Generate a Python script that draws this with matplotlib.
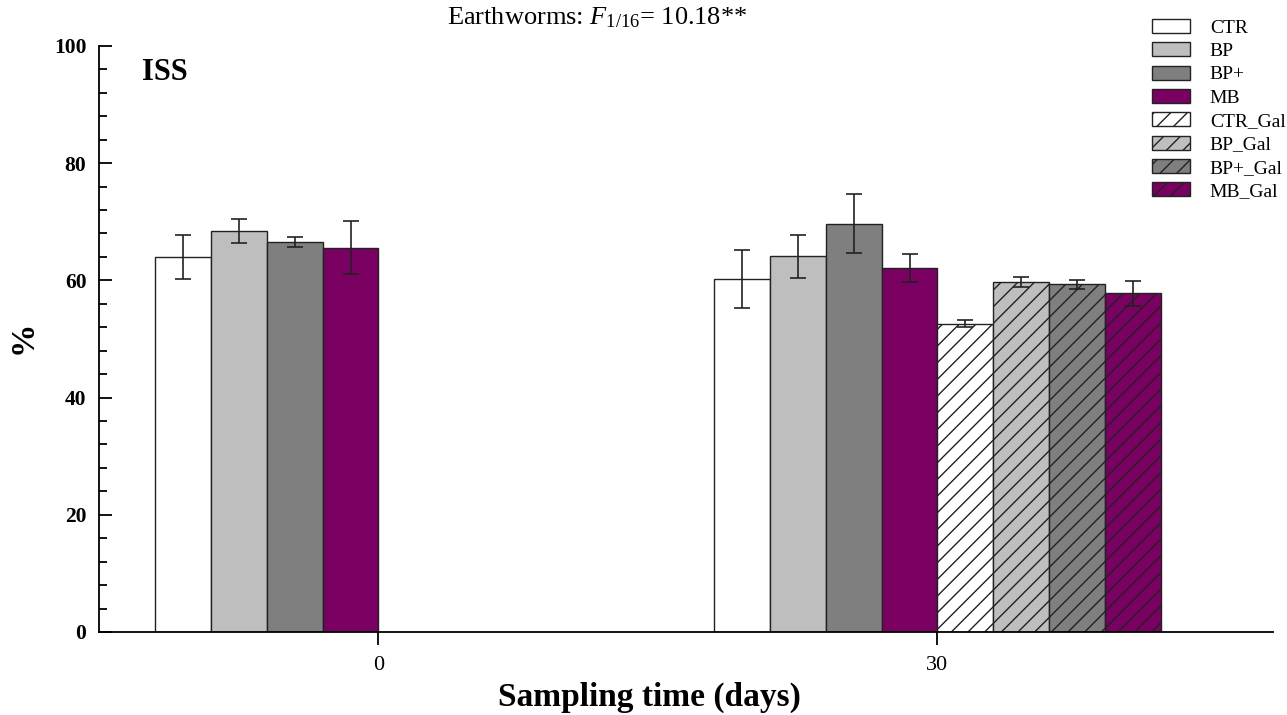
import matplotlib
matplotlib.use('Agg')
import matplotlib.pyplot as plt
from matplotlib.ticker import MultipleLocator
import numpy as np

plt.rcParams['font.family'] = ['Liberation Serif', 'DejaVu Serif']
plt.rcParams['mathtext.fontset'] = 'custom'
plt.rcParams['mathtext.rm'] = 'Liberation Serif'
plt.rcParams['mathtext.it'] = 'Liberation Serif:italic'
plt.rcParams['hatch.linewidth'] = 1.0

days = ['0', '30']
treatments = ['CTR', 'BP', 'BP+', 'MB', 'CTR_Gal', 'BP_Gal', 'BP+_Gal', 'MB_Gal']

# mean % per treatment, day 0 / day 30 (Gal treatments only sampled at 30)
means = {
    'CTR':     [64.0, 60.2],
    'BP':      [68.4, 64.1],
    'BP+':     [66.6, 69.7],
    'MB':      [65.6, 62.1],
    'CTR_Gal': [np.nan, 52.6],
    'BP_Gal':  [np.nan, 59.7],
    'BP+_Gal': [np.nan, 59.3],
    'MB_Gal':  [np.nan, 57.8],
}
errs = {
    'CTR':     [3.75, 4.9],
    'BP':      [2.1, 3.7],
    'BP+':     [0.85, 5.0],
    'MB':      [4.5, 2.4],
    'CTR_Gal': [np.nan, 0.6],
    'BP_Gal':  [np.nan, 0.8],
    'BP+_Gal': [np.nan, 0.75],
    'MB_Gal':  [np.nan, 2.1],
}

colors = ['#ffffff', '#bebebe', '#7f7f7f', '#7a0062'] * 2
hatches = [None] * 4 + ['//'] * 4

fig = plt.figure(figsize=(12.87, 7.15), dpi=100)
ax = fig.add_axes([0.0769, 0.1161, 0.9121, 0.8196])

x = np.arange(len(days))
w = 0.1
for i, t in enumerate(treatments):
    pos = x + (i - 3.5) * w
    ax.bar(pos, means[t], w, color=colors[i], edgecolor='#222222', linewidth=1.0,
           hatch=hatches[i], label=t, zorder=2)
    ax.errorbar(pos, means[t], yerr=errs[t], fmt='none', ecolor='#222222',
                elinewidth=1.2, capsize=6, capthick=1.2, zorder=3)

ax.set_xlim(-0.5, 1.6)
ax.set_ylim(0, 100)
ax.set_xticks(x)
ax.set_xticklabels(days, fontsize=16)
ax.yaxis.set_major_locator(MultipleLocator(20))
ax.yaxis.set_minor_locator(MultipleLocator(4))
ax.tick_params(axis='y', which='major', direction='in', length=9, width=1.3,
               labelsize=15.5, pad=9)
ax.tick_params(axis='y', which='minor', direction='in', length=6, width=1.3)
ax.tick_params(axis='x', direction='out', length=9.5, width=1.3, pad=8)
for lbl in ax.get_yticklabels():
    lbl.set_fontweight('bold')

ax.spines['top'].set_visible(False)
ax.spines['right'].set_visible(False)
ax.spines['left'].set_linewidth(1.3)
ax.spines['bottom'].set_linewidth(1.3)

ax.set_xlabel('Sampling time (days)', fontsize=24, fontweight='bold', va='center')
ax.xaxis.set_label_coords(0.469, -0.111)
ax.set_ylabel('%', fontsize=24, fontweight='bold', va='center')
ax.yaxis.set_label_coords(-0.0647, 0.503)

ax.text(0.037, 0.98, 'ISS', transform=ax.transAxes, fontsize=22,
        fontweight='bold', va='top', ha='left')

fig.text(0.464, 0.975, r'Earthworms: $F_{\mathrm{1/16}}$= 10.18**', fontsize=19,
         ha='center', va='center')

fig.legend(loc='upper right', bbox_to_anchor=(1.008, 0.99), frameon=False,
           fontsize=14, handlelength=2.0, handleheight=0.75, labelspacing=0.28,
           handletextpad=1.0, borderaxespad=0.2)

fig.savefig('out.png', dpi=100)
